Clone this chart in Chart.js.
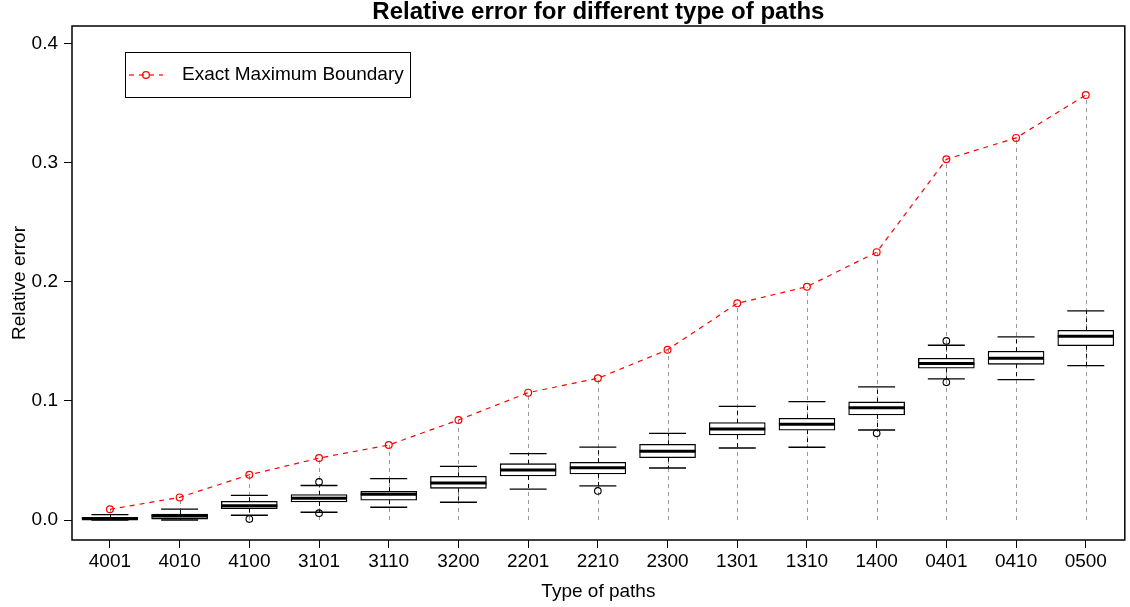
<!DOCTYPE html>
<html lang="en">
<head>
  <meta charset="UTF-8">
  <title>Relative error for different type of paths</title>
  <script src="https://cdn.jsdelivr.net/npm/chart.js"></script>
  <style>
    html, body { margin: 0; padding: 0; background: #ffffff; }
    canvas { display: block; }
  </style>
</head>
<body>
  <canvas id="boxChart" width="1130" height="607"></canvas>

  <script>
    // path types along the x axis
    const categories = ['4001','4010','4100','3101','3110','3200','2201','2210','2300','1301','1310','1400','0401','0410','0500'];

    // red dashed series
    const maxBoundary = [0.009, 0.019, 0.038, 0.052, 0.063, 0.084, 0.107, 0.119, 0.143, 0.182, 0.196, 0.225, 0.303, 0.321, 0.357];

    // box plot stats
    const whiskerLow  = [0.0000, 0.0000, 0.0040, 0.0065, 0.0107, 0.0149, 0.0260, 0.0286, 0.0437, 0.0605, 0.0611, 0.0756, 0.1185, 0.1179, 0.1297];
    const q1          = [0.0000, 0.0008, 0.0095, 0.0151, 0.0166, 0.0266, 0.0370, 0.0387, 0.0524, 0.0714, 0.0754, 0.0882, 0.1275, 0.1308, 0.1465];
    const median      = [0.0011, 0.0034, 0.0120, 0.0182, 0.0216, 0.0311, 0.0420, 0.0440, 0.0577, 0.0765, 0.0804, 0.0944, 0.1314, 0.1359, 0.1544];
    const q3          = [0.0022, 0.0050, 0.0157, 0.0213, 0.0241, 0.0367, 0.0473, 0.0485, 0.0636, 0.0818, 0.0855, 0.0992, 0.1359, 0.1418, 0.1594];
    const whiskerHigh = [0.0045, 0.0092, 0.0207, 0.0290, 0.0347, 0.0451, 0.0557, 0.0613, 0.0728, 0.0955, 0.0994, 0.1118, 0.1468, 0.1538, 0.1756];

    // outliers: category index + value
    const outlierIdx = [2, 3, 3, 7, 11, 12, 12];
    const outlierVal = [0.0008, 0.0320, 0.0057, 0.0244, 0.0728, 0.1504, 0.1157];

    const yTicks = [0.0, 0.1, 0.2, 0.3, 0.4];

    const FONT = '"Liberation Sans", Arial, Helvetica, sans-serif';
    const BOX_W = 56;
    const STAPLE_W = 37;

    const boxPlugin = {
      id: 'boxExtras',
      beforeDatasetsDraw(chart) {
        const ctx = chart.ctx;
        const x = chart.scales.x, y = chart.scales.y;
        ctx.save();
        // grey dashed guides from 0 up to the boundary
        ctx.strokeStyle = '#9a9a9a';
        ctx.lineWidth = 1;
        ctx.setLineDash([4, 4]);
        categories.forEach((c, i) => {
          const px = Math.round(x.getPixelForValue(i)) + 0.5;
          ctx.beginPath();
          ctx.moveTo(px, y.getPixelForValue(0));
          ctx.lineTo(px, y.getPixelForValue(maxBoundary[i]));
          ctx.stroke();
        });
        // dashed whiskers
        ctx.strokeStyle = '#000000';
        categories.forEach((c, i) => {
          const px = Math.round(x.getPixelForValue(i)) + 0.5;
          ctx.beginPath();
          ctx.moveTo(px, y.getPixelForValue(q3[i]));
          ctx.lineTo(px, y.getPixelForValue(whiskerHigh[i]));
          ctx.moveTo(px, y.getPixelForValue(q1[i]));
          ctx.lineTo(px, y.getPixelForValue(whiskerLow[i]));
          ctx.stroke();
        });
        // staples
        ctx.setLineDash([]);
        ctx.lineWidth = 1.3;
        categories.forEach((c, i) => {
          const px = x.getPixelForValue(i);
          [whiskerHigh[i], whiskerLow[i]].forEach(v => {
            const py = y.getPixelForValue(v);
            ctx.beginPath();
            ctx.moveTo(px - STAPLE_W / 2, py);
            ctx.lineTo(px + STAPLE_W / 2, py);
            ctx.stroke();
          });
        });
        ctx.restore();
      },
      afterDatasetDraw(chart, args) {
        if (args.meta.type !== 'bar') return;
        const ctx = chart.ctx;
        const x = chart.scales.x, y = chart.scales.y;
        ctx.save();
        ctx.strokeStyle = '#000000';
        ctx.lineWidth = 3;
        categories.forEach((c, i) => {
          const px = x.getPixelForValue(i);
          const py = y.getPixelForValue(median[i]);
          ctx.beginPath();
          ctx.moveTo(px - BOX_W / 2, py);
          ctx.lineTo(px + BOX_W / 2, py);
          ctx.stroke();
        });
        ctx.restore();
      },
      afterDraw(chart) {
        const ctx = chart.ctx;
        const a = chart.chartArea;
        ctx.save();
        // frame
        ctx.strokeStyle = '#000000';
        ctx.lineWidth = 1.5;
        ctx.strokeRect(a.left, a.top, a.right - a.left, a.bottom - a.top);

        // title
        ctx.fillStyle = '#000000';
        ctx.font = 'bold 24px ' + FONT;
        ctx.textAlign = 'center';
        ctx.textBaseline = 'alphabetic';
        ctx.fillText('Relative error for different type of paths', (a.left + a.right) / 2, 18.5);

        // legend
        const lx = a.left + 53, ly = a.top + 26;
        ctx.lineWidth = 1;
        ctx.strokeRect(lx + 0.5, ly + 0.5, 285, 45);
        const cy = ly + 23;
        ctx.strokeStyle = '#ff0000';
        ctx.lineWidth = 1.2;
        ctx.setLineDash([5, 5]);
        ctx.beginPath();
        ctx.moveTo(lx + 4, cy);
        ctx.lineTo(lx + 38, cy);
        ctx.stroke();
        ctx.setLineDash([]);
        ctx.beginPath();
        ctx.arc(lx + 21, cy, 3.4, 0, Math.PI * 2);
        ctx.stroke();
        ctx.fillStyle = '#000000';
        ctx.font = '19px ' + FONT;
        ctx.textAlign = 'left';
        ctx.textBaseline = 'middle';
        ctx.fillText('Exact Maximum Boundary', lx + 57, cy);
        ctx.restore();
      }
    };

    const ctx = document.getElementById('boxChart').getContext('2d');
    new Chart(ctx, {
      type: 'bar',
      data: {
        datasets: [
          {
            type: 'line',
            label: 'Exact Maximum Boundary',
            data: categories.map((c, i) => ({ x: i, y: maxBoundary[i] })),
            borderColor: '#ff0000',
            borderWidth: 1.2,
            borderDash: [5, 5],
            pointRadius: 3.4,
            pointBorderWidth: 1.2,
            pointBorderColor: '#ff0000',
            pointBackgroundColor: 'rgba(0,0,0,0)',
            fill: false,
            tension: 0,
            order: 0
          },
          {
            type: 'scatter',
            label: 'outliers',
            data: outlierIdx.map((idx, k) => ({ x: idx, y: outlierVal[k] })),
            pointRadius: 3.3,
            pointBorderWidth: 1.1,
            pointBorderColor: '#000000',
            pointBackgroundColor: 'rgba(0,0,0,0)',
            order: 1
          },
          {
            type: 'bar',
            label: 'boxes',
            data: categories.map((c, i) => ({ x: i, y: [q1[i], q3[i]] })),
            backgroundColor: '#ffffff',
            borderColor: '#000000',
            borderWidth: 1.3,
            borderSkipped: false,
            barThickness: BOX_W,
            order: 2
          }
        ]
      },
      options: {
        responsive: false,
        animation: false,
        devicePixelRatio: 1,
        layout: { padding: { top: 26, right: 3, left: 0, bottom: 0 } },
        plugins: {
          legend: { display: false },
          title: { display: false },
          tooltip: { enabled: false }
        },
        scales: {
          x: {
            type: 'linear',
            min: -0.544,
            max: 14.56,
            offset: false,
            afterBuildTicks: scale => { scale.ticks = categories.map((c, i) => ({ value: i })); },
            afterFit: scale => { scale.height = 67; },
            ticks: {
              callback: v => categories[v],
              color: '#000000',
              font: { family: FONT, size: 19 },
              padding: 2,
              maxRotation: 0,
              autoSkip: false
            },
            grid: { offset: false, drawOnChartArea: false, drawTicks: true, tickLength: 8, color: '#000000', lineWidth: 1 },
            border: { display: false },
            title: {
              display: true,
              text: 'Type of paths',
              color: '#000000',
              font: { family: FONT, size: 19 },
              padding: { top: 0, bottom: 4 }
            }
          },
          y: {
            type: 'linear',
            min: -0.0168,
            max: 0.415,
            afterBuildTicks: scale => { scale.ticks = yTicks.map(v => ({ value: v })); },
            afterFit: scale => { scale.width = 72; },
            ticks: {
              callback: v => v.toFixed(1),
              color: '#000000',
              font: { family: FONT, size: 19 },
              padding: 6
            },
            grid: { drawOnChartArea: false, drawTicks: true, tickLength: 8, color: '#000000', lineWidth: 1 },
            border: { display: false },
            title: {
              display: true,
              text: 'Relative error',
              color: '#000000',
              font: { family: FONT, size: 19 },
              padding: { top: 8, bottom: 0 }
            }
          }
        }
      },
      plugins: [boxPlugin]
    });
  </script>
</body>
</html>
